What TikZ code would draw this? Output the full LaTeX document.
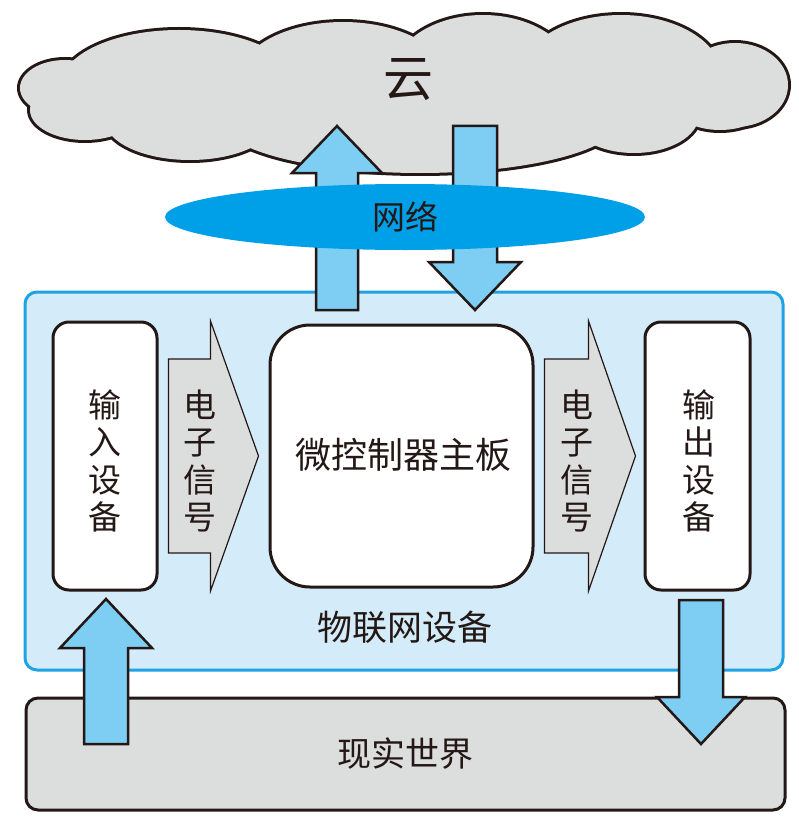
\documentclass[tikz,border=0pt]{standalone}
\usepackage{fontspec}
\setmainfont{Noto Sans CJK SC}
\usetikzlibrary{calc,shapes.geometric}
\definecolor{cloudgray}{HTML}{DCDDDD}
\definecolor{lblue}{HTML}{7ECEF4}
\definecolor{netblue}{HTML}{00A0E9}
\definecolor{iotfill}{HTML}{D4ECFA}
\definecolor{iotline}{HTML}{1EA2E3}
\definecolor{ink}{HTML}{231815}

% #1 style, #2 start, #3 end, #4 half shaft, #5 half head, #6 head length
\newcommand\blockarrow[6]{%
  \coordinate (ba-hb) at ($(#3)!#6!(#2)$);
  \draw[#1] ($(#2)!#4!90:(#3)$) -- ($(ba-hb)!#4!90:(#3)$) -- ($(ba-hb)!#5!90:(#3)$)
    -- (#3) -- ($(ba-hb)!#5!-90:(#3)$) -- ($(ba-hb)!#4!-90:(#3)$) -- ($(#2)!#4!-90:(#3)$) -- cycle;
}

\begin{document}
\begin{tikzpicture}[x=1pt,y=-1pt,
  box/.style={draw=ink, line width=3pt, fill=white, rounded corners=16pt, inner sep=0pt},
  bluearrow/.style={draw=ink, fill=lblue, line width=2.5pt, line join=miter},
  grayarrow/.style={draw=ink, fill=cloudgray, line width=1.2pt, line join=miter},
  lbl/.style={text=ink, inner sep=0pt},
  vtext/.style={lbl, align=center, font=\fontsize{33}{37.5}\selectfont},
]
\useasboundingbox (0,0) rectangle (798,832);

% cloud: outline of a union of ellipses
\def\cloudparts{179/85/118/55, 343/80/105/58, 483/75/90/60, 621/75/100/60, 735/85/53/42, 720/100/50/30, 634/115/65/38, 420/120/200/53, 190/120/85/40, 85/110/55/30, 65/88/45/28, 405/95/320/50}
\foreach \cx/\cy/\rx/\ry in \cloudparts {\draw[ink, line width=6pt] (\cx,\cy) ellipse [x radius=\rx pt, y radius=\ry pt];}
\foreach \cx/\cy/\rx/\ry in \cloudparts {\fill[cloudgray] (\cx,\cy) ellipse [x radius=\rx pt, y radius=\ry pt];}
\node (cloud) [lbl, font=\fontsize{50}{50}\selectfont] at (408,80) {云};

% IoT device container
\node (iot) [draw=iotline, fill=iotfill, line width=3pt, rounded corners=12pt,
  minimum width=758pt, minimum height=378pt, inner sep=0pt] at (404,481) {};
\node (iotlabel) [lbl, font=\fontsize{35}{35}\selectfont] at (405,627) {物联网设备};

% real world
\node (real) [draw=ink, fill=cloudgray, line width=3pt, rounded corners=12pt,
  minimum width=759pt, minimum height=112pt, inner sep=0pt,
  text=ink, font=\fontsize{34}{34}\selectfont] at (405.5,754) {现实世界};

% inner boxes
\node (inputdev) [box, minimum width=104pt, minimum height=268pt] at (105,456) {};
\node [vtext] at (105,461) {输\\入\\设\\备};
\node (mcu) [box, rounded corners=40pt, minimum width=263pt, minimum height=262pt] at (401.5,456) {};
\node [lbl, font=\fontsize{36}{36}\selectfont] at (403,455) {微控制器主板};
\node (outputdev) [box, minimum width=105pt, minimum height=268pt] at (697.5,456) {};
\node [vtext] at (699,461) {输\\出\\设\\备};

% electronic signal arrows
\coordinate (s1a) at ($(inputdev.east)+(10,0)$);
\coordinate (s1b) at ($(mcu.west)+(-10,0)$);
\coordinate (s2a) at ($(mcu.east)+(10,0)$);
\coordinate (s2b) at ($(outputdev.west)+(-8,0)$);
\blockarrow{grayarrow}{s1a}{s1b}{97pt}{135pt}{48pt}
\blockarrow{grayarrow}{s2a}{s2b}{97pt}{135pt}{47pt}
\node [vtext] at (200,461) {电\\子\\信\\号};
\node [vtext] at (577,461) {电\\子\\信\\号};

% blue arrows
\coordinate (upA) at (337,310);
\coordinate (upB) at (337,126);
\coordinate (dnA) at (475,126);
\coordinate (dnB) at (475,310);
\coordinate (inA) at (106,744);
\coordinate (inB) at (106,599);
\coordinate (outA) at (701,600);
\coordinate (outB) at (701,744);
\blockarrow{bluearrow}{upA}{upB}{21pt}{45pt}{47pt}
\blockarrow{bluearrow}{dnA}{dnB}{22pt}{46pt}{48pt}
\blockarrow{bluearrow}{inA}{inB}{22pt}{46pt}{49pt}
\blockarrow{bluearrow}{outA}{outB}{22pt}{44pt}{47pt}

% network
\node (net) [ellipse, fill=netblue, minimum width=480pt, minimum height=66pt, inner sep=0pt,
  text=ink, font=\fontsize{33}{33}\selectfont] at (405,217) {网络};
\end{tikzpicture}
\end{document}
